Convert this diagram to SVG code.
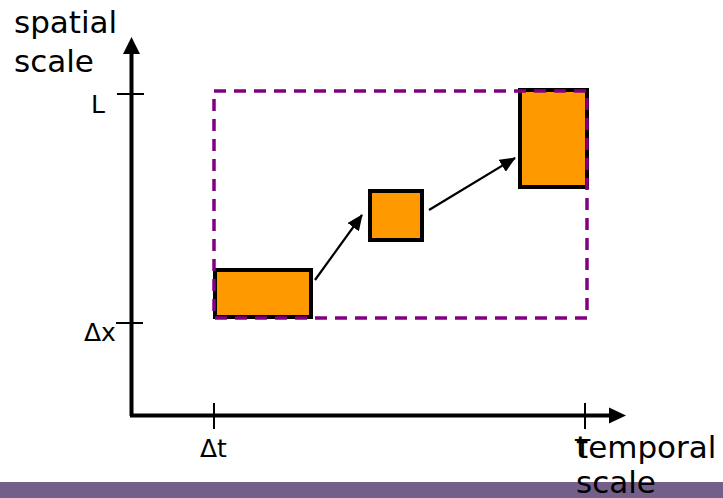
<svg xmlns="http://www.w3.org/2000/svg" width="723" height="498" viewBox="0 0 723 498">
<defs>
<style>
.lbl{font-family:"DejaVu Sans",sans-serif;fill:#000}
.big{font-size:31px}
.med{font-size:25px}
.axis{stroke:#000;stroke-width:4;fill:none}
.tick{stroke:#000;stroke-width:2;fill:none}
.box{fill:#ff9900;stroke:#000;stroke-width:4}
.frame{fill:none;stroke:#800080;stroke-width:3.5;stroke-dasharray:12,8}
.conn{stroke:#000;stroke-width:2.2;fill:none}
</style>
<marker id="ah" markerWidth="16" markerHeight="14" refX="15" refY="7" orient="auto" markerUnits="userSpaceOnUse" viewBox="0 0 16 14">
<path d="M0,0 L16,7 L0,14 z" fill="#000"/>
</marker>
</defs>
<rect width="723" height="498" fill="#fff"/>
<rect x="0" y="482" width="723" height="16" fill="#745e8a"/>
<g id="axes">
<path class="axis" d="M131.5,416 V52"/>
<path d="M123,54 L131.5,37 L140,54 z" fill="#000"/>
<path class="axis" d="M130,415.5 H611"/>
<path d="M609,407.5 L626,415.5 L609,423.5 z" fill="#000"/>
<path class="tick" d="M117,94 H144"/>
<path class="tick" d="M116,323 H143"/>
<path class="tick" d="M214,403 V429"/>
<path class="tick" d="M585,403 V429"/>
</g>
<g id="labels">
<text class="lbl big" x="14" y="33">spatial</text>
<text class="lbl big" x="14" y="72">scale</text>
<text class="lbl med" x="91" y="113">L</text>
<text class="lbl med" x="84" y="341">Δx</text>
<text class="lbl med" x="200" y="457">Δt</text>
<text class="lbl med" x="575" y="457">T</text>
<text class="lbl big" x="576" y="458">temporal</text>
<text class="lbl big" x="576" y="493">scale</text>
</g>
<g id="box1"><rect class="box" x="215" y="270" width="96" height="47"/></g>
<g id="box2"><rect class="box" x="370" y="191" width="52" height="49"/></g>
<g id="box3"><rect class="box" x="520" y="90" width="67" height="97"/></g>
<g id="frame"><rect class="frame" x="214" y="91" width="373" height="227"/></g>
<g id="connectors">
<path class="conn" marker-end="url(#ah)" d="M315,280 L362,215"/>
<path class="conn" marker-end="url(#ah)" d="M429,210 L515,158"/>
</g>
</svg>
